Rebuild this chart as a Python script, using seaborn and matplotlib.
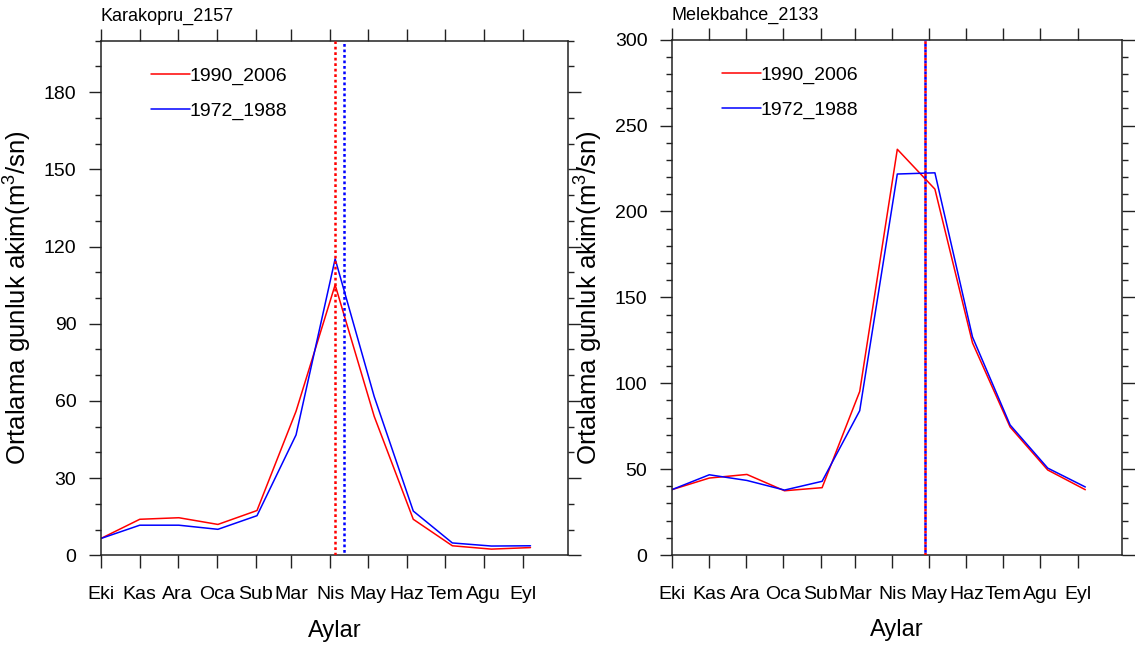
import numpy as np
import pandas as pd
import matplotlib
matplotlib.use("Agg")
import matplotlib.pyplot as plt
from matplotlib.ticker import MultipleLocator
import seaborn as sns

# ---------------- data ----------------
months = ['Eki', 'Kas', 'Ara', 'Oca', 'Sub', 'Mar', 'Nis', 'May', 'Haz', 'Tem', 'Agu', 'Eyl']
month_start_days = [0, 31, 61, 92, 123, 151, 182, 212, 243, 273, 304, 335]
point_days = [0, 31, 62, 93, 124, 155, 186, 217, 248, 279, 310, 341]

series_names = ['1990_2006', '1972_1988']
series_colors = ['red', 'blue']

kara_1990_2006 = [6.5, 14.0, 14.6, 12.0, 17.4, 56.0, 105.1, 54.0, 14.0, 3.7, 2.4, 3.0]
kara_1972_1988 = [6.5, 11.7, 11.7, 10.1, 15.4, 46.8, 115.2, 61.7, 17.2, 4.8, 3.6, 3.7]
kara_center_days = [186, 193]

melek_1990_2006 = [38.0, 44.8, 46.9, 37.4, 39.2, 95.2, 236.2, 213.0, 123.5, 74.5, 49.5, 38.0]
melek_1972_1988 = [38.0, 46.7, 43.4, 37.8, 42.9, 84.0, 221.8, 222.5, 126.9, 75.7, 50.6, 39.6]
melek_center_days = [209, 209]

titles = ['Karakopru_2157', 'Melekbahce_2133']
ylabel = r'Ortalama gunluk akim(m$^{\mathrm{3}}$/sn)'
xlabel = 'Aylar'

# ---------------- style ----------------
sns.set_theme(style='ticks')
plt.rcParams['font.family'] = ['Liberation Sans', 'DejaVu Sans']
plt.rcParams['mathtext.fontset'] = 'custom'
plt.rcParams['mathtext.rm'] = 'Liberation Sans'
plt.rcParams['mathtext.it'] = 'Liberation Sans'
plt.rcParams['mathtext.bf'] = 'Liberation Sans'

W, H = 1135, 647
fig = plt.figure(figsize=(W / 100, H / 100), dpi=100)
fig.patch.set_facecolor('white')

ax1 = fig.add_axes([100.7 / W, 1 - 555.3 / H, 467.6 / W, 514.6 / H])
ax2 = fig.add_axes([671.7 / W, 1 - 555.0 / H, 450.0 / W, 515.3 / H])

panels = [
    (ax1, kara_1990_2006, kara_1972_1988, kara_center_days, (0, 200), 30, titles[0]),
    (ax2, melek_1990_2006, melek_1972_1988, melek_center_days, (0, 300), 50, titles[1]),
]

for k, (ax, s1, s2, centers, ylim, ymaj, title) in enumerate(panels):
    df = pd.DataFrame({
        'day': point_days * 2,
        'flow': list(s1) + list(s2),
        'period': [series_names[0]] * len(s1) + [series_names[1]] * len(s2),
    })
    sns.lineplot(data=df, x='day', y='flow', hue='period', hue_order=series_names,
                 palette=dict(zip(series_names, series_colors)), linewidth=1.1,
                 ax=ax, sort=False)

    # centre-of-timing dashed lines
    for j, (d, c) in enumerate(zip(centers, series_colors)):
        ax.axvline(d, color=c, linewidth=1.8,
                   linestyle=(1.1 * j, (1.1, 1.1)), zorder=3)

    ax.set_xlim(0, 371)
    ax.set_ylim(*ylim)
    ax.set_xticks(month_start_days, labels=months)
    ax.yaxis.set_major_locator(MultipleLocator(ymaj))
    ax.yaxis.set_minor_locator(MultipleLocator(10))

    ax.tick_params(which='both', direction='out', top=True, right=True,
                   labeltop=False, labelright=False, color='#222222', width=1.0)
    ax.tick_params(which='major', length=9, labelsize=14, labelcolor='black')
    ax.tick_params(axis='y', which='major', pad=8.5)
    ax.tick_params(axis='x', which='major', pad=13)
    ax.tick_params(which='minor', length=4)
    ax.tick_params(axis='x', which='minor', bottom=False, top=False)

    for sp in ax.spines.values():
        sp.set_visible(True)
        sp.set_color('#222222')
        sp.set_linewidth(1.1)

    ax.set_xlabel(xlabel, fontsize=17, color='black')
    ax.set_ylabel(ylabel, fontsize=18.5, color='black')
    axw = 467.6 if k == 0 else 450.0
    ax.yaxis.set_label_coords(-66.5 / axw, 0.5)
    ax.xaxis.set_label_coords(0.5, -0.125)

    ax.text(0, 1 + 20 / 514.6, title, transform=ax.transAxes, ha='left',
            va='baseline', fontsize=13, color='black')

    handles, labels = ax.get_legend_handles_labels()
    leg = ax.legend(handles, labels, loc='upper left',
                    bbox_to_anchor=(50 / axw, 0.949), frameon=False,
                    handlelength=2.0, handletextpad=0.0, borderpad=0,
                    borderaxespad=0, labelspacing=0.9, fontsize=14)
    for t in leg.get_texts():
        t.set_color('black')

fig.savefig('out.png', dpi=100)
